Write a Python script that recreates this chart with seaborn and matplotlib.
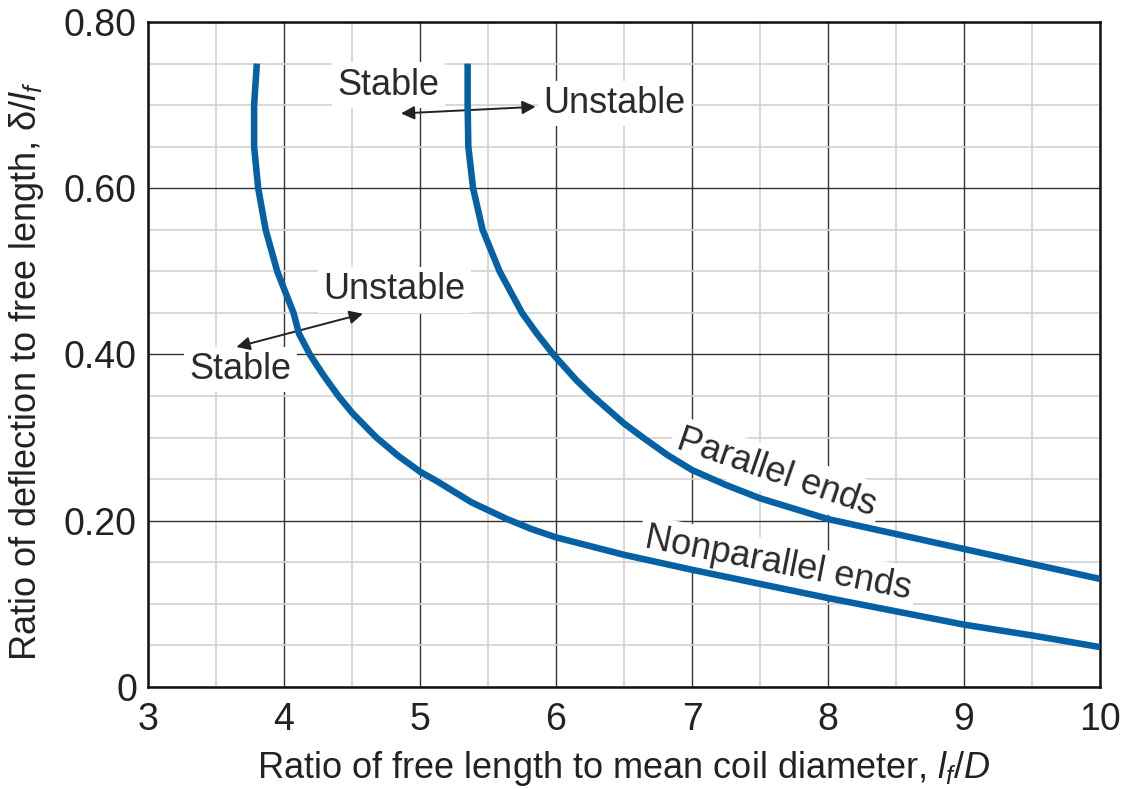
import matplotlib
matplotlib.use("Agg")
import matplotlib.pyplot as plt
import numpy as np
import pandas as pd
import seaborn as sns
from matplotlib.ticker import MultipleLocator

# Curves: ratio l_f/D against ratio delta/l_f
NONPAR_X = [3.80, 3.78, 3.78, 3.81, 3.865, 3.95, 4.07, 4.11, 4.19, 4.29, 4.40, 4.50, 4.68,
            4.84, 5.00, 5.12, 5.38, 5.64, 5.82, 6.00, 6.50, 7.00, 7.50, 8.00, 8.50, 9.00, 9.50, 10.00]
NONPAR_Y = [0.75, 0.70, 0.65, 0.60, 0.55, 0.50, 0.45, 0.425, 0.40, 0.375, 0.35, 0.33, 0.30,
            0.278, 0.259, 0.248, 0.222, 0.202, 0.19, 0.18, 0.159, 0.141, 0.124, 0.107, 0.091, 0.075, 0.062, 0.048]

PAR_X = [5.35, 5.35, 5.355, 5.39, 5.46, 5.585, 5.75, 5.86, 5.98, 6.15, 6.27, 6.50,
         6.64, 6.82, 7.00, 7.25, 7.50, 8.00, 8.50, 9.00, 9.50, 10.00]
PAR_Y = [0.75, 0.70, 0.65, 0.60, 0.55, 0.50, 0.45, 0.425, 0.40, 0.369, 0.35, 0.317,
         0.30, 0.279, 0.261, 0.243, 0.227, 0.202, 0.184, 0.166, 0.148, 0.130]

X_TICKS = [3, 4, 5, 6, 7, 8, 9, 10]
Y_TICKS = [0, 0.2, 0.4, 0.6, 0.8]
Y_TICKLABELS = ['0', '0.20', '0.40', '0.60', '0.80']

CURVE_COLOR = '#0561a3'
TEXT_COLOR = '#2b2b2b'

sns.set_style('white')
plt.rcParams['font.family'] = ['Liberation Sans', 'DejaVu Sans']
plt.rcParams['mathtext.fontset'] = 'custom'
plt.rcParams['mathtext.rm'] = 'Liberation Sans'
plt.rcParams['mathtext.it'] = 'Liberation Sans:italic'

fig = plt.figure(figsize=(11.3, 7.89), dpi=100)
ax = fig.add_axes([0.131, 0.1293, 0.8425, 0.8428])

curves = pd.concat([
    pd.DataFrame({'x': NONPAR_X, 'y': NONPAR_Y, 'ends': 'Nonparallel ends'}),
    pd.DataFrame({'x': PAR_X, 'y': PAR_Y, 'ends': 'Parallel ends'}),
])
for name, grp in curves.groupby('ends'):
    sns.lineplot(data=grp, x='x', y='y', sort=False, estimator=None,
                 color=CURVE_COLOR, linewidth=4.7, ax=ax, zorder=5,
                 solid_joinstyle='round', solid_capstyle='butt')

ax.set_xlim(3, 10)
ax.set_ylim(0, 0.8)
ax.set_xticks(X_TICKS)
ax.set_yticks(Y_TICKS)
ax.set_yticklabels(Y_TICKLABELS)
ax.xaxis.set_minor_locator(MultipleLocator(0.5))
ax.yaxis.set_minor_locator(MultipleLocator(0.05))
ax.set_axisbelow(True)
ax.grid(which='minor', color='#d2d2d2', linewidth=1.2)
ax.grid(which='major', color='#333333', linewidth=1.0)
ax.tick_params(which='both', length=0)
ax.tick_params(axis='x', pad=11, labelsize=27, labelcolor='#222222')
ax.tick_params(axis='y', pad=8, labelsize=27, labelcolor='#222222')
for sp in ax.spines.values():
    sp.set_color('#111111')
    sp.set_linewidth(1.8)

ax.set_xlabel('Ratio of free length to mean coil diameter, $l_f/D$',
              fontsize=26, color='#222222', labelpad=8)
ax.set_ylabel('Ratio of deflection to free length, δ/$l_f$',
              fontsize=26, color='#222222')
ax.yaxis.set_label_coords(-0.107, 0.475)

box = dict(facecolor='white', edgecolor='none', pad=4)
txt = dict(fontsize=26, color=TEXT_COLOR, ha='center', va='center',
           bbox=box, zorder=4)
ax.text(4.77, 0.724, 'Stable', **txt)
ax.text(6.43, 0.702, 'Unstable', **txt)
ax.text(4.81, 0.478, 'Unstable', **txt)
ax.text(3.68, 0.382, 'Stable', **txt)
ax.text(7.62, 0.258, 'Parallel ends', rotation=-19, rotation_mode='anchor', **txt)
ax.text(7.63, 0.148, 'Nonparallel ends', rotation=-11, rotation_mode='anchor', **txt)

arrow = dict(arrowstyle='<|-|>', color='#222222', lw=1.4, mutation_scale=20,
             shrinkA=0, shrinkB=0)
ax.annotate('', xy=(4.86, 0.69), xytext=(5.85, 0.698), arrowprops=arrow, zorder=4)
ax.annotate('', xy=(3.65, 0.409), xytext=(4.58, 0.449), arrowprops=arrow, zorder=4)

fig.savefig('out.png', dpi=100)
